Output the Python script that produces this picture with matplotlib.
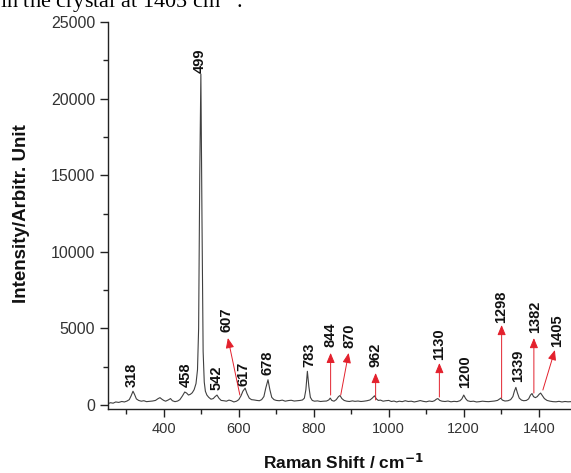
import matplotlib
matplotlib.use("Agg")
import matplotlib.pyplot as plt
from matplotlib.ticker import MultipleLocator

plt.rcParams['font.family'] = ['Liberation Sans', 'DejaVu Sans']
plt.rcParams['mathtext.default'] = 'regular'

# Spectrum (Raman shift, intensity)
shift = [250, 258, 265, 272, 280, 288, 295, 302, 308, 313, 318, 322, 327, 333, 340, 347, 354, 362, 370, 378,
         385, 390, 395, 400, 405, 412, 418, 423, 430, 437, 443, 450, 456, 461, 466, 471, 476, 481, 486, 490,
         493, 496, 499, 502, 505, 508, 511, 515, 520, 526, 532, 537, 542, 547, 553, 560, 567, 574, 580, 587,
         594, 600, 606, 611, 617, 622, 628, 634, 641, 648, 655, 661, 667, 672, 678, 683, 688, 694, 700, 708,
         716, 724, 732, 740, 748, 756, 764, 770, 775, 779, 783, 787, 791, 796, 802, 810, 818, 826, 834, 840,
         844, 848, 854, 860, 866, 870, 875, 881, 888, 895, 903, 910, 918, 926, 934, 942, 950, 956, 962, 967,
         972, 978, 985, 992, 1000, 1007, 1014, 1021, 1028, 1036, 1044, 1052, 1060, 1068, 1076, 1084, 1092, 1100, 1108, 1116,
         1122, 1127, 1131, 1136, 1142, 1150, 1158, 1166, 1174, 1182, 1190, 1195, 1200, 1205, 1210, 1218, 1226, 1234, 1242, 1250,
         1258, 1266, 1274, 1282, 1290, 1295, 1299, 1303, 1310, 1318, 1325, 1331, 1335, 1339, 1343, 1348, 1354, 1360, 1367, 1373,
         1378, 1382, 1386, 1391, 1396, 1401, 1405, 1410, 1415, 1422, 1430, 1438, 1446, 1454, 1462, 1470, 1478, 1486]
intensity = [80, 150, 120, 200, 170, 230, 200, 260, 350, 600, 900, 700, 400, 300, 250, 280, 220, 240, 260, 300,
             420, 480, 380, 300, 250, 330, 420, 280, 220, 260, 350, 600, 850, 780, 650, 700, 800, 1000, 1400, 2300,
             5000, 15000, 21600, 12000, 3500, 1500, 900, 650, 500, 380, 420, 550, 650, 450, 300, 280, 250, 320, 280, 200,
             250, 350, 600, 900, 1100, 750, 450, 350, 330, 300, 280, 350, 550, 1100, 1650, 1000, 500, 350, 300, 280,
             320, 250, 290, 310, 260, 280, 300, 330, 450, 1000, 2200, 1200, 500, 300, 250, 270, 230, 250, 260, 330,
             450, 300, 250, 350, 550, 620, 420, 300, 250, 230, 270, 240, 260, 230, 250, 280, 330, 450, 600, 400,
             300, 320, 250, 280, 300, 230, 260, 200, 250, 220, 280, 230, 250, 200, 240, 290, 240, 210, 260, 230,
             280, 380, 420, 300, 250, 230, 260, 210, 240, 220, 280, 400, 650, 420, 280, 230, 250, 200, 220, 250,
             230, 220, 240, 260, 300, 380, 450, 320, 260, 280, 350, 550, 900, 1150, 800, 450, 320, 280, 300, 400,
             650, 750, 550, 480, 550, 700, 780, 600, 420, 300, 250, 220, 210, 240, 200, 230, 210, 220]

# Peak labels: text, x position, y of label bottom
plain_labels = ["318", "458", "499", "542", "617", "678", "783", "1200", "1339"]
plain_x = [315, 459, 497, 542, 613, 678, 787, 1203, 1345]
plain_y = [1180, 1180, 21700, 980, 1240, 1960, 2480, 1110, 1500]

# Arrowed labels: text, arrow tail (x, y), arrow head (x, y), label position (x, bottom y)
arrow_labels = ["607", "844", "870", "962", "1130", "1298", "1382", "1405"]
tail_x = [603, 845, 872, 965, 1135, 1301, 1387, 1411]
tail_y = [650, 650, 650, 330, 520, 460, 780, 980]
head_x = [571, 845, 893, 965, 1135, 1301, 1387, 1443]
head_y = [4375, 3400, 3400, 2090, 2740, 5220, 4370, 3590]
lab_x = [568, 845, 896, 965, 1135, 1301, 1389, 1448]
lab_y = [4770, 3790, 3720, 2500, 2940, 5350, 4700, 3790]

W, H = 571, 473
fig = plt.figure(figsize=(W / 100, H / 100), dpi=100)
ax = fig.add_axes([107.5 / W, (H - 409) / H, 468.75 / W, 387 / H])

ax.plot(shift, intensity, color='#404040', lw=0.8)

ax.set_xlim(250, 1500)
ax.set_ylim(-260, 25000)
ax.xaxis.set_minor_locator(MultipleLocator(100))
ax.yaxis.set_major_locator(MultipleLocator(5000))
ax.yaxis.set_minor_locator(MultipleLocator(2500))
ax.set_xticks([400, 600, 800, 1000, 1200, 1400])
ax.spines['top'].set_visible(False)
ax.spines['right'].set_visible(False)
for s in ('left', 'bottom'):
    ax.spines[s].set_color('#222222')
    ax.spines[s].set_linewidth(1.0)
ax.tick_params(which='major', direction='out', length=6, width=1.0, color='#222222',
               labelcolor='#333333', pad=3)
ax.tick_params(axis='x', which='major', labelsize=10.5)
ax.tick_params(axis='y', which='major', labelsize=11.5)
ax.tick_params(which='minor', direction='out', length=3.5, width=1.0, color='#222222')

for t, x, y in zip(plain_labels, plain_x, plain_y):
    ax.text(x, y, t, rotation=90, ha='center', va='bottom', fontsize=10.5,
            fontweight='bold', color='#111111')

for t, tx, ty, hx, hy, lx, ly in zip(arrow_labels, tail_x, tail_y, head_x, head_y, lab_x, lab_y):
    ax.annotate('', xy=(hx, hy), xytext=(tx, ty),
                arrowprops=dict(arrowstyle='-|>,head_length=0.6,head_width=0.25',
                                color='#e3202c', lw=0.7, shrinkA=0, shrinkB=0))
    ax.text(lx, ly, t, rotation=90, ha='center', va='bottom', fontsize=10.5,
            fontweight='bold', color='#111111')

fig.text(22 / W, 1 - 214 / H, 'Intensity/Arbitr. Unit', rotation=90, ha='center', va='center',
         fontsize=13.5, fontweight='bold', color='#111111')
fig.text(343 / W, 1 - 462 / H, r'Raman Shift / cm$^{\mathbf{-1}}$', ha='center', va='center',
         fontsize=12.5, fontweight='bold', color='#111111')

fig.text(0.0, 1 - 8 / H, r'in the crystal at 1405 cm$^{-1}$.', ha='left', va='baseline',
         fontsize=16, family=['Liberation Serif', 'DejaVu Serif'], color='black')

fig.savefig('out.png', dpi=100)
